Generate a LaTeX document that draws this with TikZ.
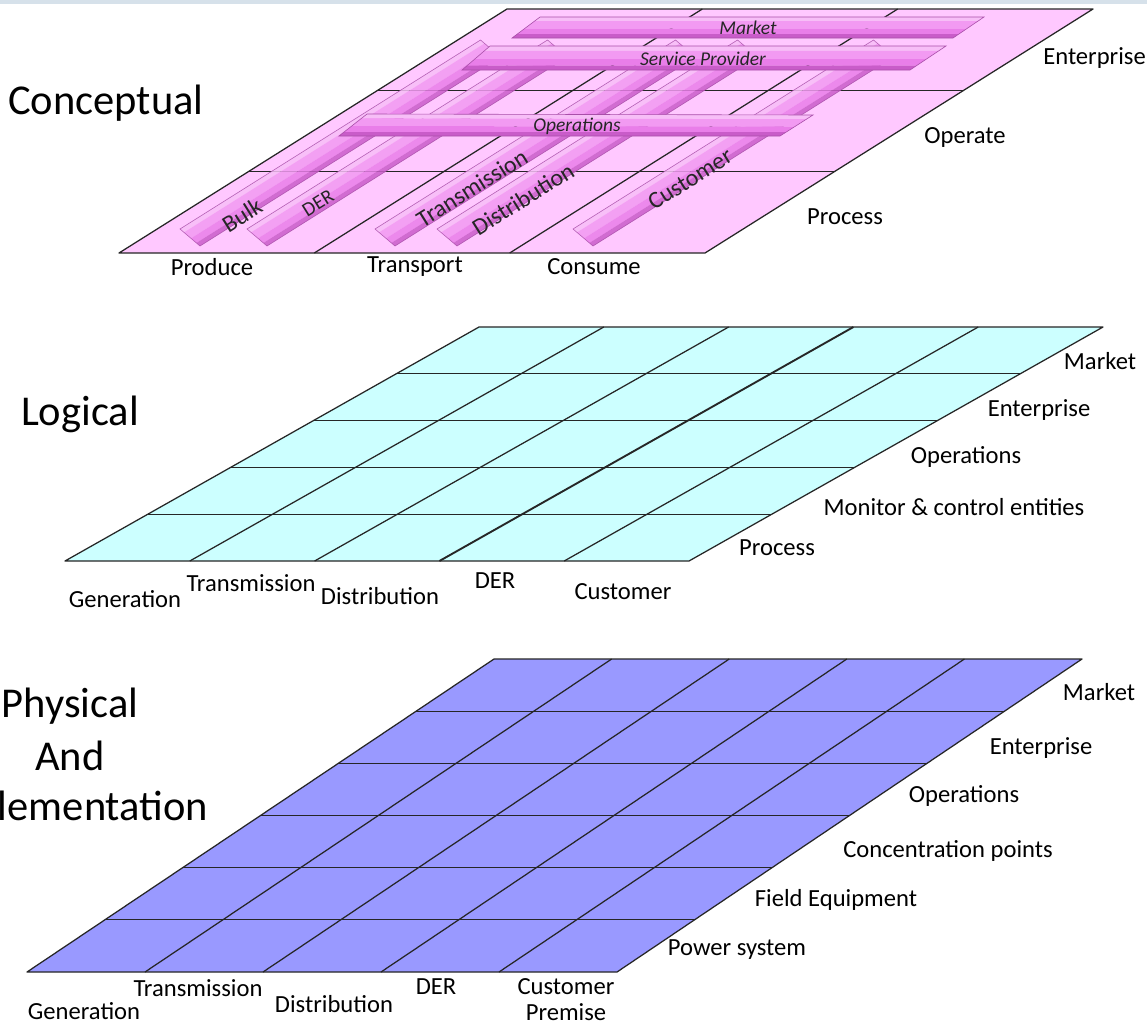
\documentclass[tikz,border=0pt]{standalone}
\usepackage{fontspec}
\setmainfont{Carlito}
\usetikzlibrary{calc}
\definecolor{pinkplane}{HTML}{FFC8FF}
\definecolor{cyanplane}{HTML}{CCFFFF}
\definecolor{blueplane}{HTML}{9999FF}
\definecolor{gridline}{HTML}{262626}
\definecolor{tubeA}{HTML}{F7BEF7}
\definecolor{tubeB}{HTML}{F29AF2}
\definecolor{tubeC}{HTML}{E97EE9}
\definecolor{tubeD}{HTML}{C95CC9}
\definecolor{tubeedge}{HTML}{A94FA9}
\definecolor{topband}{HTML}{D6E1EA}
% #1-#2: light long edge, #4-#3: dark long edge
\newcommand{\mytube}[4]{%
  \foreach \fa/\fb/\col in {0/0.2/tubeA, 0.2/0.55/tubeB, 0.55/0.82/tubeC, 0.82/1/tubeD}{%
    \fill[\col] ($(#1)!\fa!(#4)$) -- ($(#2)!\fa!(#3)$) -- ($(#2)!\fb!(#3)$) -- ($(#1)!\fb!(#4)$) -- cycle;
  }%
  \draw[tubeedge, line width=0.6pt] (#1) -- (#2) -- (#3) -- (#4) -- cycle;
}
\newcommand{\mydtube}[2]{%
  \coordinate (#2-2) at (#1,229);
  \coordinate (#2-3) at ($(#2-2)+(20,17)$);
  \coordinate (#2-1) at ($(#2-2)+(300.5,-189)$);
  \coordinate (#2-4) at ($(#2-3)+(300.5,-189)$);
  \mytube{#2-1}{#2-2}{#2-3}{#2-4}
}
\begin{document}
\begin{tikzpicture}[x=1pt,y=-1pt,
  grid/.style={draw=gridline, line width=1.25pt, line join=round},
  lbl/.style={font=\fontsize{24.6}{27}\selectfont, inner sep=0pt, text=black},
  big/.style={font=\fontsize{42.5}{48}\selectfont, inner sep=0pt, text=black},
  barlbl/.style={font=\fontsize{19.5}{21}\selectfont\itshape, inner sep=0pt, text=black!85},
  rotlbl/.style={font=\fontsize{24}{26}\selectfont, inner sep=0pt, rotate=32, text=black!85}]
\useasboundingbox (0,0) rectangle (1147,1026);
\fill[white] (0,0) rectangle (1147,1026);
\fill[topband] (0,0) rectangle (1147,4);

% ---------- Conceptual plane ----------
\coordinate (cA) at (119,253);
\coordinate (cB) at (705,253);
\coordinate (cC) at (1093,9);
\coordinate (cD) at (507,9);
\fill[pinkplane] (cA) -- (cB) -- (cC) -- (cD) -- cycle;
\foreach \f in {0.3333,0.6667}{
  \draw[grid] ($(cA)!\f!(cB)$) -- ($(cD)!\f!(cC)$);
  \draw[grid] ($(cA)!\f!(cD)$) -- ($(cB)!\f!(cC)$);
}
\draw[grid] (cA) -- (cB) -- (cC) -- (cD) -- cycle;

\begin{scope}[opacity=0.85]
\mydtube{180}{tb}
\mydtube{247}{td}
\mydtube{375}{tt}
\mydtube{437}{tdi}
\mydtube{573}{tc}
\end{scope}

\coordinate (m1) at (540,17); \coordinate (m2) at (984,17);
\coordinate (m3) at (953,38); \coordinate (m4) at (512,38);
\mytube{m1}{m2}{m3}{m4}
\coordinate (s1) at (490,46); \coordinate (s2) at (946,46);
\coordinate (s3) at (910,70); \coordinate (s4) at (462,70);
\mytube{s1}{s2}{s3}{s4}
\coordinate (o1) at (367,114); \coordinate (o2) at (813,115);
\coordinate (o3) at (780,136); \coordinate (o4) at (339,136);
\mytube{o1}{o2}{o3}{o4}

\node[barlbl] (lmarket) at (748,28) {Market};
\node[barlbl] (lsp) at (703,59) {Service Provider};
\node[barlbl] (lops) at (577,126) {Operations};
\node[rotlbl] (lbulk) at (242,215) {Bulk};
\node[rotlbl, font=\fontsize{20}{22}\selectfont] (lder) at (318,203) {DER};
\node[rotlbl] (ltrans) at (472,188) {Transmission};
\node[rotlbl] (ldist) at (523,199) {Distribution};
\node[rotlbl] (lcust) at (690,179) {Customer};

\node[big] (conceptual) at (106,103) {Conceptual};
\node[lbl, anchor=east] (cent) at (1146,58) {Enterprise};
\node[lbl] (cop) at (965,137) {Operate};
\node[lbl] (cpr) at (845,217) {Process};
\node[lbl] (cproduce) at (212,267) {Produce};
\node[lbl] (ctransport) at (415,267) {Transport};
\node[lbl] (cconsume) at (594,267) {Consume};

% ---------- Logical plane ----------
\coordinate (mA) at (65,561);
\coordinate (mB) at (689,561);
\coordinate (mC) at (1103,327);
\coordinate (mD) at (479,327);
\fill[cyanplane] (mA) -- (mB) -- (mC) -- (mD) -- cycle;
\foreach \f in {0.2,0.4,0.8}{
  \draw[grid] ($(mA)!\f!(mB)$) -- ($(mD)!\f!(mC)$);
}
\draw[grid, line width=1.9pt] ($(mA)!0.6!(mB)$) -- ($(mD)!0.6!(mC)$);
\foreach \f in {0.2,0.4,0.6,0.8}{
  \draw[grid] ($(mA)!\f!(mD)$) -- ($(mB)!\f!(mC)$);
}
\draw[grid] (mA) -- (mB) -- (mC) -- (mD) -- cycle;

\node[big] (logical) at (80,414) {Logical};
\node[lbl] (lmk) at (1100,361) {Market};
\node[lbl] (lent) at (1039,410) {Enterprise};
\node[lbl] (lopr) at (966,457) {Operations};
\node[lbl] (lmon) at (954,507) {Monitor \& control entities};
\node[lbl] (lproc) at (777,548) {Process};
\node[lbl] (lgen) at (125,599) {Generation};
\node[lbl] (ltr) at (251,583) {Transmission};
\node[lbl] (ldi) at (380,596) {Distribution};
\node[lbl] (lde) at (495,581) {DER};
\node[lbl] (lcu) at (623,592) {Customer};

% ---------- Physical plane ----------
\coordinate (pA) at (27,972);
\coordinate (pB) at (617,972);
\coordinate (pC) at (1082,659);
\coordinate (pD) at (494,659);
\fill[blueplane] (pA) -- (pB) -- (pC) -- (pD) -- cycle;
\foreach \f in {0.2,0.4,0.6,0.8}{
  \draw[grid] ($(pA)!\f!(pB)$) -- ($(pD)!\f!(pC)$);
}
\foreach \f in {0.16667,0.33333,0.5,0.66667,0.83333}{
  \draw[grid] ($(pA)!\f!(pD)$) -- ($(pB)!\f!(pC)$);
}
\draw[grid] (pA) -- (pB) -- (pC) -- (pD) -- cycle;

\node[big] (phys) at (70,706) {Physical};
\node[big] (and) at (70,756) {And};
\node[big] (impl) at (103,806) {lementation};
\node[lbl] (pmk) at (1099,692) {Market};
\node[lbl] (pent) at (1041,748) {Enterprise};
\node[lbl] (pop) at (964,796) {Operations};
\node[lbl] (pcon) at (948,851) {Concentration points};
\node[lbl] (pfe) at (836,900) {Field Equipment};
\node[lbl] (pps) at (737,950) {Power system};
\node[lbl] (pgen) at (84,1011) {Generation};
\node[lbl] (ptr) at (198,988) {Transmission};
\node[lbl] (pdi) at (334,1004) {Distribution};
\node[lbl] (pde) at (436,987) {DER};
\node[lbl] (pcu) at (566,987) {Customer};
\node[lbl] (ppr) at (566,1012) {Premise};
\end{tikzpicture}
\end{document}
